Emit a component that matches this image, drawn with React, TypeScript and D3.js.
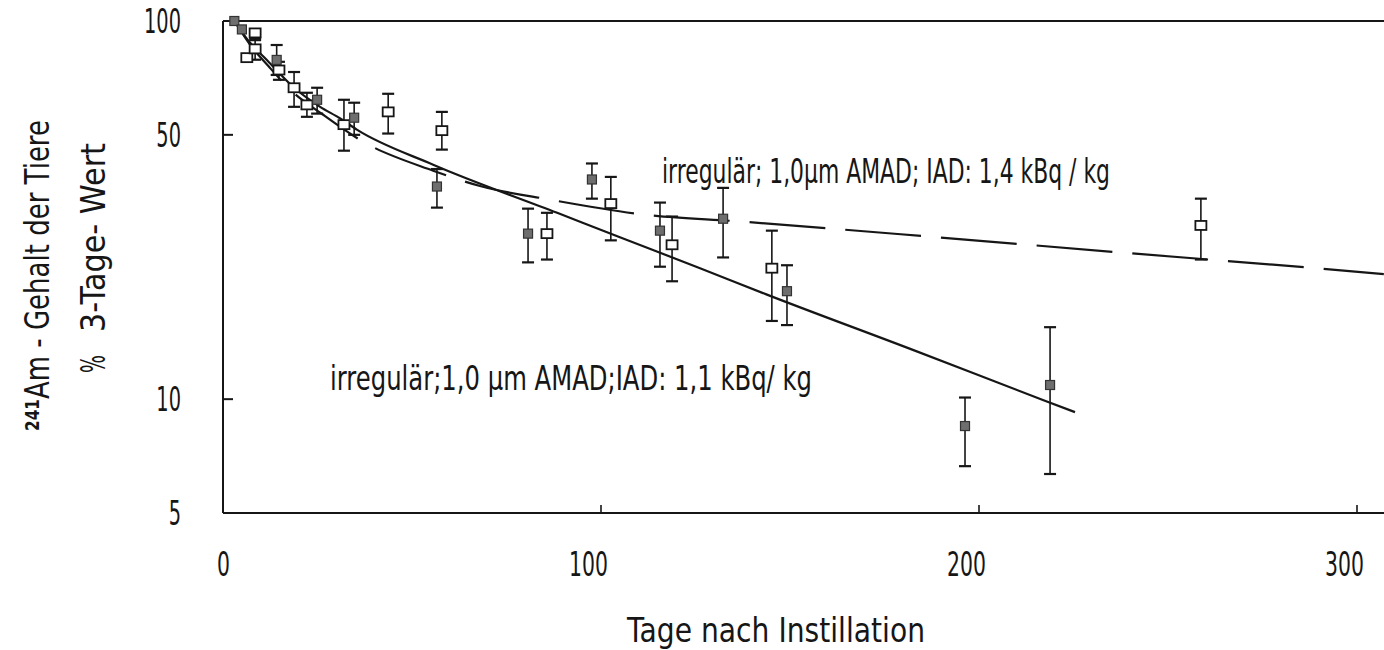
import React from "react";
import * as d3 from "d3";

// ---- data ----
const xTicks = [0, 100, 200, 300];
const yTicks = [5, 10, 50, 100];

// solid fitted curve: irregulär; 1,0 µm AMAD; IAD 1,1 kBq/kg
const solidDays = [3, 7, 11.6, 18.5, 25.7, 30.9, 35.4, 55.6, 88.4, 105, 126.2, 143.9, 182.5, 216.9, 225.4];
const solidPct = [100, 88, 78.9, 67, 59.3, 55.3, 51.6, 41.7, 31.1, 26.8, 22.2, 18.9, 13.5, 9.95, 9.24];

// dashed fitted curve: irregulär; 1,0 µm AMAD; IAD 1,4 kBq/kg
const dashedDays = [3, 7, 12, 18, 26.5, 37, 55.6, 68.5, 86.5, 111.1, 136.8, 187, 238, 288.9, 307.1];
const dashedPct = [100, 87, 76, 65.5, 56.5, 48.0, 40.2, 36.5, 33.7, 30.8, 29.5, 26.9, 24.4, 22.2, 21.4];

// open squares
const openDays = [6.3, 8.5, 8.5, 14.8, 18.8, 22.2, 32, 43.7, 57.9, 85.7, 102.6, 118.8, 145.2, 258.7];
const openPct = [80, 93, 84.4, 74.2, 66.6, 60, 53.2, 57.5, 51.3, 27.4, 32.9, 25.6, 22.2, 28.8];
const openLo = [null, 89, 79, 69.9, 59.3, 55.8, 45.4, 50.4, 45.7, 23.4, 26.3, 20.5, 16.1, 23.4];
const openHi = [null, null, 90, 78, 73.3, 64.6, 61.9, 64.2, 57.5, 31.1, 38.7, 30.4, 27.9, 33.9];

// filled squares
const filledDays = [3, 5, 14.2, 24.9, 34.7, 56.6, 80.7, 97.6, 115.6, 132.3, 149.2, 196.3, 218.8];
const filledPct = [100, 95, 78.9, 61.9, 55.5, 36.5, 27.4, 38.1, 27.9, 30.0, 19.3, 8.49, 10.9];
const filledLo = [null, null, 72, 56.9, 50, 32.1, 23.0, 33.9, 22.4, 23.7, 15.7, 6.65, 6.34];
const filledHi = [null, null, 86.4, 66.6, 60.8, 40.6, 31.9, 42.0, 33.1, 36.2, 22.6, 10.1, 15.5];

const upperLabel = "irregulär; 1,0µm AMAD; IAD: 1,4 kBq / kg";
const lowerLabel = "irregulär;1,0 µm AMAD;IAD: 1,1 kBq/ kg";
const xTitle = "Tage  nach  Instillation";
const yTitleIso = "241";
const yTitle1 = "Am - Gehalt der Tiere";
const yTitle2a = "%";
const yTitle2b = "3-Tage- Wert";

const FONT = "'DejaVu Sans', sans-serif";
const INK = "#161616";

export default function App() {
  const W = 1384, H = 650;
  const x = d3.scaleLinear().domain([0, 300]).range([223, 1357]);
  const y = d3.scaleLog().domain([5, 100]).range([513, 21]);
  const x0 = x(0), yTop = y(100), yBot = y(5);

  const line = d3
    .line<[number, number]>()
    .x((d) => x(d[0]))
    .y((d) => y(d[1]))
    .curve(d3.curveMonotoneX);

  const solid = line(solidDays.map((d, i) => [d, solidPct[i]] as [number, number])) || "";
  const dashed = line(dashedDays.map((d, i) => [d, dashedPct[i]] as [number, number])) || "";

  const errBar = (d: number, lo: number | null, hi: number | null, key: string) => {
    if (lo == null && hi == null) return null;
    const cx = x(d);
    const y1 = hi != null ? y(hi) : null;
    const y2 = lo != null ? y(lo) : null;
    return (
      <g key={key} stroke={INK} strokeWidth={1.6}>
        <line x1={cx} x2={cx} y1={y1 ?? y2!} y2={y2 ?? y1!} />
        {y1 != null && <line x1={cx - 6} x2={cx + 6} y1={y1} y2={y1} strokeWidth={2.2} />}
        {y2 != null && <line x1={cx - 6} x2={cx + 6} y1={y2} y2={y2} strokeWidth={2.2} />}
      </g>
    );
  };

  return (
    <svg
      width={W}
      height={H}
      viewBox={`0 0 ${W} ${H}`}
      style={{ position: "absolute", left: 0, top: 0, background: "#fff" }}
    >
      <rect width={W} height={H} fill="#fff" />

      {/* frame */}
      <g stroke={INK} strokeWidth={2} fill="none">
        <line x1={x0} x2={W} y1={yTop} y2={yTop} />
        <line x1={x0} x2={W} y1={yBot} y2={yBot} />
        <line x1={x0} x2={x0} y1={yTop} y2={yBot} />
        {[10, 50].map((t) => (
          <line key={t} x1={x0} x2={x0 + 10} y1={y(t)} y2={y(t)} />
        ))}
        {[100, 200, 300].map((t) => (
          <line key={t} x1={x(t)} x2={x(t)} y1={yBot} y2={yBot - 8} strokeWidth={1.6} />
        ))}
      </g>

      {/* y tick labels */}
      {yTicks.map((t) => (
        <text
          key={t}
          transform={`translate(181, ${y(t) + 12}) scale(0.57,1)`}
          textAnchor="end"
          fontFamily={FONT}
          fontSize={34}
          fill={INK}
        >
          {t}
        </text>
      ))}

      {/* x tick labels */}
      {xTicks.map((t) => (
        <text
          key={t}
          transform={`translate(${x(t) + 7}, ${y(5) + 63}) scale(0.6,1)`}
          textAnchor="end"
          fontFamily={FONT}
          fontSize={34}
          fill={INK}
        >
          {t}
        </text>
      ))}

      {/* x axis title */}
      <text
        x={627}
        y={642}
        textLength={298}
        lengthAdjust="spacingAndGlyphs"
        fontFamily={FONT}
        fontSize={34}
        fill={INK}
      >
        {xTitle}
      </text>

      {/* y axis titles */}
      <text
        transform="translate(49, 431) rotate(-90)"
        textLength={311}
        lengthAdjust="spacingAndGlyphs"
        fontFamily={FONT}
        fontSize={34}
        fill={INK}
      >
        <tspan fontSize={20} fontWeight="bold" dy={-10}>{yTitleIso}</tspan>
        <tspan dy={10}>{yTitle1}</tspan>
      </text>
      <text
        transform="translate(105, 373) rotate(-90)"
        fontFamily={FONT}
        fontSize={34}
        textLength={18}
        lengthAdjust="spacingAndGlyphs"
        fill={INK}
      >
        {yTitle2a}
      </text>
      <text
        transform="translate(105, 332) rotate(-90)"
        textLength={189}
        lengthAdjust="spacingAndGlyphs"
        fontFamily={FONT}
        fontSize={34}
        fill={INK}
      >
        {yTitle2b}
      </text>

      {/* fitted curves */}
      <path d={solid} fill="none" stroke={INK} strokeWidth={2.2} />
      <path d={dashed} fill="none" stroke={INK} strokeWidth={2.2} strokeDasharray="76 20" />

      {/* error bars */}
      {openDays.map((d, i) => errBar(d, openLo[i], openHi[i], "oe" + i))}
      {filledDays.map((d, i) => errBar(d, filledLo[i], filledHi[i], "fe" + i))}

      {/* markers */}
      {openDays.map((d, i) => (
        <rect
          key={"o" + i}
          x={x(d) - 5.5}
          y={y(openPct[i]) - 4.5}
          width={11}
          height={9}
          fill="#fff"
          stroke={INK}
          strokeWidth={1.8}
        />
      ))}
      {filledDays.map((d, i) => (
        <rect
          key={"f" + i}
          x={x(d) - 4.5}
          y={y(filledPct[i]) - 4.5}
          width={9}
          height={9}
          fill="#6e6e6e"
          stroke="#333"
          strokeWidth={1.2}
        />
      ))}

      {/* annotations */}
      <text
        x={662}
        y={183}
        textLength={448}
        lengthAdjust="spacingAndGlyphs"
        fontFamily={FONT}
        fontSize={34}
        fill={INK}
      >
        {upperLabel}
      </text>
      <text
        x={330}
        y={390}
        textLength={482}
        lengthAdjust="spacingAndGlyphs"
        fontFamily={FONT}
        fontSize={34}
        fill={INK}
      >
        {lowerLabel}
      </text>
    </svg>
  );
}
